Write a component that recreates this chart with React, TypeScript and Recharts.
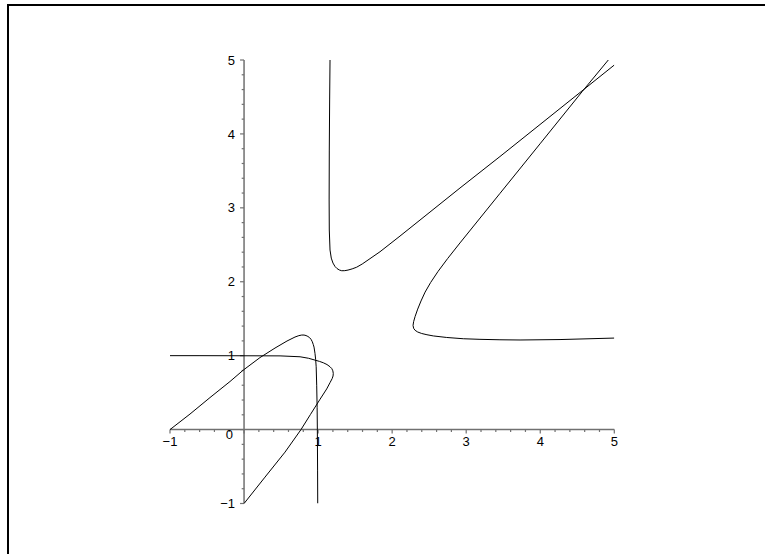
import { LineChart, Line, XAxis, YAxis, ReferenceLine, ReferenceDot } from 'recharts';

// Branches of the two implicit curves, [x, y] pairs in drawing order
const upperBranch: [number, number][] = [
  [1.161, 5.0], [1.156, 4.459], [1.151, 3.782], [1.149, 3.106], [1.151, 2.7], [1.161, 2.429],
  [1.178, 2.32], [1.201, 2.253], [1.228, 2.207], [1.255, 2.179], [1.287, 2.159], [1.319, 2.149],
  [1.36, 2.15], [1.404, 2.158], [1.46, 2.174], [1.521, 2.197], [1.596, 2.24], [1.674, 2.294],
  [1.836, 2.406], [2.106, 2.618], [2.511, 2.943], [2.916, 3.268], [3.456, 3.694], [3.997, 4.127],
  [4.537, 4.56], [5.0, 4.932],
];

const rightBranch: [number, number][] = [
  [4.919, 5.0], [4.564, 4.57], [3.997, 3.866], [3.456, 3.195], [2.916, 2.525], [2.75, 2.315],
  [2.62, 2.14], [2.52, 1.99], [2.445, 1.86], [2.39, 1.74], [2.345, 1.63], [2.31, 1.53],
  [2.29, 1.46], [2.282, 1.41], [2.29, 1.37], [2.31, 1.343], [2.345, 1.32], [2.399, 1.3],
  [2.47, 1.283], [2.556, 1.267], [2.737, 1.246], [2.961, 1.229], [3.186, 1.221], [3.456, 1.215],
  [3.727, 1.212], [4.267, 1.218], [5.0, 1.238],
];

const risingBranch: [number, number][] = [
  [-1, 0], [-0.73, 0.21], [-0.46, 0.433], [-0.19, 0.65], [-0.01, 0.805], [0.215, 0.974],
  [0.418, 1.103], [0.58, 1.198], [0.688, 1.252], [0.74, 1.271], [0.779, 1.279], [0.81, 1.279],
  [0.837, 1.272], [0.862, 1.26], [0.884, 1.245], [0.905, 1.22], [0.922, 1.188], [0.935, 1.15],
  [0.945, 1.116], [0.958, 1.031], [0.967, 0.95], [0.974, 0.85], [0.981, 0.6], [0.987, 0.3],
  [0.99, 0], [0.993, -0.548], [0.995, -1],
];

const flatBranch: [number, number][] = [
  [-1, 1.0], [-0.595, 1.0], [-0.19, 0.999], [0.215, 0.998], [0.486, 0.997], [0.756, 0.985],
  [0.87, 0.965], [0.958, 0.94], [1.02, 0.922], [1.07, 0.904], [1.12, 0.88], [1.161, 0.85],
  [1.185, 0.825], [1.199, 0.795], [1.205, 0.76], [1.202, 0.725], [1.19, 0.69], [1.161, 0.635],
  [1.116, 0.55], [1.026, 0.41], [0.897, 0.205], [0.769, 0], [0.553, -0.305], [0.283, -0.643],
  [0, -1],
];

const majorTicks = [-1, 0, 1, 2, 3, 4, 5];
const tickLabels = ['\u22121', '0', '1', '2', '3', '4', '5'];

// four minor ticks between each pair of major ones
const minorTicks: number[] = [];
for (let i = 0; i < majorTicks.length - 1; i++) {
  for (let k = 1; k < 5; k++) minorTicks.push(majorTicks[i] + k * 0.2);
}

const MAJOR_LEN = 0.054;
const MINOR_LEN = 0.032;
const AXIS_COLOR = '#707070';
const LABEL_SIZE = 13;

const toPoints = (pts: [number, number][]) => pts.map(([x, y]) => ({ x, y }));

const branches = [upperBranch, rightBranch, risingBranch, flatBranch].map(toPoints);

function OriginLabel({ viewBox }: any) {
  return (
    <text x={viewBox.x - 11} y={viewBox.y + 9.3} textAnchor="end" fontSize={LABEL_SIZE} fill="#000">
      0
    </text>
  );
}

export default function App() {
  return (
    <div
      style={{
        position: 'absolute',
        left: 0,
        top: 0,
        width: 765,
        height: 554,
        background: '#fff',
        fontFamily: '"Liberation Sans", Arial, sans-serif',
        fontSize: LABEL_SIZE,
      }}
    >
      <div style={{ position: 'absolute', left: 7, top: 4, width: 758, height: 550, borderTop: '2px solid #000', borderLeft: '2px solid #000', boxSizing: 'border-box' }} />
      <div style={{ position: 'absolute', left: 0, top: 0 }}>
        <LineChart width={765} height={554} margin={{ top: 60, right: 150.7, bottom: 50.5, left: 170 }}>
          <XAxis type="number" dataKey="x" domain={[-1, 5]} allowDataOverflow hide />
          <YAxis type="number" dataKey="y" domain={[-1, 5]} allowDataOverflow hide />

          <ReferenceLine y={0} stroke={AXIS_COLOR} strokeWidth={1.5} ifOverflow="visible" />
          <ReferenceLine x={0} stroke={AXIS_COLOR} strokeWidth={1.5} ifOverflow="visible" />

          {majorTicks.map((v) => (
            <ReferenceLine key={'xM' + v} segment={[{ x: v, y: 0 }, { x: v, y: -MAJOR_LEN }]} stroke={AXIS_COLOR} strokeWidth={1.2} ifOverflow="visible" />
          ))}
          {majorTicks.map((v) => (
            <ReferenceLine key={'yM' + v} segment={[{ x: 0, y: v }, { x: -MAJOR_LEN, y: v }]} stroke={AXIS_COLOR} strokeWidth={1.2} ifOverflow="visible" />
          ))}
          {minorTicks.map((v) => (
            <ReferenceLine key={'xm' + v} segment={[{ x: v, y: 0 }, { x: v, y: -MINOR_LEN }]} stroke={AXIS_COLOR} strokeWidth={1.2} ifOverflow="visible" />
          ))}
          {minorTicks.map((v) => (
            <ReferenceLine key={'ym' + v} segment={[{ x: 0, y: v }, { x: -MINOR_LEN, y: v }]} stroke={AXIS_COLOR} strokeWidth={1.2} ifOverflow="visible" />
          ))}

          {majorTicks.map((v, i) =>
            v === 0 ? null : (
              <ReferenceDot
                key={'xl' + v}
                x={v}
                y={0}
                r={0}
                stroke="none"
                fill="none"
                ifOverflow="visible"
                label={{ value: tickLabels[i], position: 'bottom', offset: 7, fill: '#000', fontSize: LABEL_SIZE }}
              />
            )
          )}
          {majorTicks.map((v, i) =>
            v === 0 ? null : (
              <ReferenceDot
                key={'yl' + v}
                x={0}
                y={v}
                r={0}
                stroke="none"
                fill="none"
                ifOverflow="visible"
                label={{ value: tickLabels[i], position: 'left', offset: 9, fill: '#000', fontSize: LABEL_SIZE }}
              />
            )
          )}
          <ReferenceDot x={0} y={0} r={0} stroke="none" fill="none" ifOverflow="visible" label={<OriginLabel />} />

          {branches.map((pts, i) => (
            <Line
              key={i}
              data={pts}
              dataKey="y"
              type="linear"
              stroke="#000"
              strokeWidth={1}
              dot={false}
              activeDot={false}
              isAnimationActive={false}
            />
          ))}
        </LineChart>
      </div>
    </div>
  );
}
